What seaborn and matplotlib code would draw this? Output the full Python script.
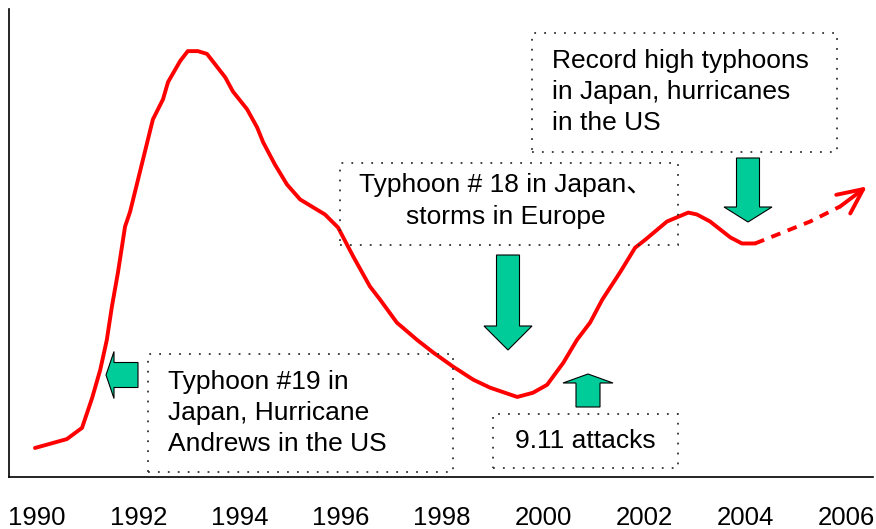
import matplotlib

matplotlib.use("Agg")
import matplotlib.pyplot as plt
import pandas as pd
import seaborn as sns
from matplotlib.patches import Polygon, Rectangle

# Loss trend (index)
years = [
    1989.96, 1990.59, 1990.89, 1991.09, 1991.25, 1991.38, 1991.48, 1991.60,
    1991.74, 1991.84, 1992.08, 1992.29, 1992.49, 1992.59, 1992.83, 1992.98,
    1993.18, 1993.36, 1993.72, 1993.87, 1994.15, 1994.35, 1994.47, 1994.70,
    1994.94, 1995.20, 1995.69, 1995.95, 1996.25, 1996.58, 1996.78, 1997.11,
    1997.51, 1997.83, 1998.22, 1998.62, 1998.95, 1999.49, 1999.80, 2000.08,
    2000.40, 2000.67, 2000.93, 2001.17, 2001.52, 2001.82, 2002.02, 2002.45,
    2002.87, 2003.04, 2003.30, 2003.70, 2003.93, 2004.19,
]
index = [
    6.2, 8.1, 10.5, 16.9, 22.9, 29.3, 36.4, 43.7,
    53.5, 56.7, 67.2, 76.4, 80.7, 84.4, 88.9, 91.0,
    91.0, 90.4, 85.4, 82.4, 78.6, 74.7, 71.5, 66.8,
    62.5, 59.3, 56.1, 53.3, 47.1, 40.7, 37.9, 33.0,
    29.3, 26.6, 23.6, 20.8, 19.1, 17.1, 18.0, 19.7,
    24.4, 29.3, 33.0, 37.9, 43.7, 49.0, 50.7, 54.6,
    56.5, 56.1, 54.6, 51.2, 49.9, 49.9,
]
forecast_years = [2004.19, 2005.28, 2005.87, 2006.40]
forecast_index = [49.9, 54.6, 57.8, 62.1]
tick_years = [1990, 1992, 1994, 1996, 1998, 2000, 2002, 2004, 2006]

W, H = 876, 529
RED = "#FF0000"
GREEN = "#00CC99"
FONT = ["Liberation Sans", "Noto Sans CJK JP", "DejaVu Sans"]

sns.set_theme(style="white")
plt.rcParams["font.family"] = FONT
plt.rcParams["text.color"] = "black"
plt.rcParams["xtick.color"] = "black"


def fx(x):
    return x / W


def fy(y):
    return 1 - y / H


def block_arrow(fig, tip, direction, length, body_w, head_w, head_l):
    tx, ty = tip
    if direction == "down":
        pts = [(tx, ty), (tx - head_w / 2, ty - head_l), (tx - body_w / 2, ty - head_l),
               (tx - body_w / 2, ty - length), (tx + body_w / 2, ty - length),
               (tx + body_w / 2, ty - head_l), (tx + head_w / 2, ty - head_l)]
    elif direction == "up":
        pts = [(tx, ty), (tx - head_w / 2, ty + head_l), (tx - body_w / 2, ty + head_l),
               (tx - body_w / 2, ty + length), (tx + body_w / 2, ty + length),
               (tx + body_w / 2, ty + head_l), (tx + head_w / 2, ty + head_l)]
    else:  # left
        pts = [(tx, ty), (tx + head_l, ty - head_w / 2), (tx + head_l, ty - body_w / 2),
               (tx + length, ty - body_w / 2), (tx + length, ty + body_w / 2),
               (tx + head_l, ty + body_w / 2), (tx + head_l, ty + head_w / 2)]
    fig.add_artist(Polygon([(fx(x), fy(y)) for x, y in pts], closed=True,
                           transform=fig.transFigure, facecolor=GREEN,
                           edgecolor="black", linewidth=0.8, zorder=5))


def dotted_box(fig, x0, y0, x1, y1):
    fig.add_artist(Rectangle((fx(x0), fy(y1)), fx(x1) - fx(x0), fy(y0) - fy(y1),
                             transform=fig.transFigure, fill=False,
                             edgecolor="#333333", linewidth=1.3,
                             linestyle=(0, (1, 4.5)), zorder=4))


fig = plt.figure(figsize=(W / 100, H / 100), dpi=100)
ax = fig.add_axes([fx(9), fy(477), fx(873) - fx(9), fy(9) - fy(477)])

trend = pd.DataFrame({"year": years, "index": index})
outlook = pd.DataFrame({"year": forecast_years, "index": forecast_index})

sns.lineplot(data=trend, x="year", y="index", ax=ax, color=RED, linewidth=2.8, sort=False)
sns.lineplot(data=outlook.iloc[:-1], x="year", y="index", ax=ax, color=RED,
             linewidth=2.8, linestyle=(0, (2.5, 2)), sort=False)
ax.annotate("", xy=(forecast_years[-1], forecast_index[-1]),
            xytext=(forecast_years[-2], forecast_index[-2]),
            arrowprops=dict(arrowstyle="->,head_length=0.6,head_width=0.28",
                            color=RED, lw=2.8, mutation_scale=30,
                            shrinkA=0, shrinkB=0))

ax.set_xlim(1989.447, 2006.52)
ax.set_ylim(0, 100)
ax.set_xticks(tick_years)
ax.set_xticklabels([str(y) for y in tick_years], fontsize=18.5)
ax.set_yticks([])
ax.set_xlabel("")
ax.set_ylabel("")
ax.tick_params(axis="x", length=0, pad=21)
for side in ["top", "right"]:
    ax.spines[side].set_visible(False)
for side in ["left", "bottom"]:
    ax.spines[side].set_color("black")
    ax.spines[side].set_linewidth(1.2)

# annotation boxes
dotted_box(fig, 148, 354, 453, 472)
fig.text(fx(168), fy(413), "Typhoon #19 in\nJapan, Hurricane\nAndrews in the US",
         ha="left", va="center", fontsize=19, linespacing=1.38)

dotted_box(fig, 340, 163, 678, 245)
fig.text(fx(506), fy(201), "Typhoon # 18 in Japan、\nstorms in Europe",
         ha="center", va="center", fontsize=19, linespacing=1.38)

dotted_box(fig, 532, 33, 837, 152)
fig.text(fx(552), fy(92), "Record high typhoons\nin Japan, hurricanes\nin the US",
         ha="left", va="center", fontsize=19, linespacing=1.38)

dotted_box(fig, 493, 414, 678, 468)
fig.text(fx(585), fy(441), "9.11 attacks", ha="center", va="center", fontsize=19)

# green block arrows
block_arrow(fig, (106, 375), "left", 32, 25, 47, 8)
block_arrow(fig, (508, 350), "down", 95, 23, 48, 24)
block_arrow(fig, (748, 222), "down", 64, 23, 48, 15)
block_arrow(fig, (588, 374), "up", 33, 24, 50, 9)

fig.savefig("out.png", dpi=100)
